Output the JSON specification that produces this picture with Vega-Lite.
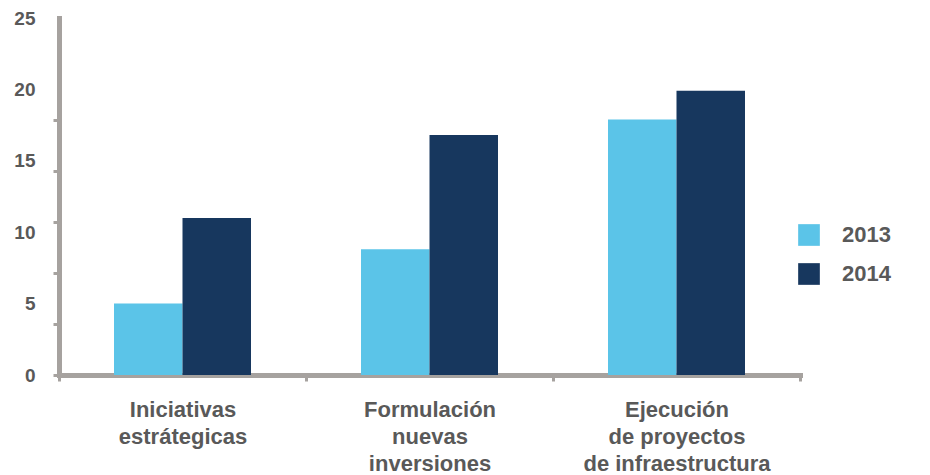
{
  "$schema": "https://vega.github.io/schema/vega-lite/v6.json",
  "autosize": "none",
  "width": 741,
  "height": 357,
  "padding": {"left": 59, "top": 18, "right": 130, "bottom": 100},
  "background": "white",
  "config": {
    "view": {"stroke": null},
    "font": "Liberation Sans",
    "axis": {
      "labelFont": "Liberation Sans",
      "labelFontWeight": "bold",
      "labelColor": "#595959",
      "domainColor": "#A6A29F",
      "domainWidth": 5,
      "tickColor": "#A6A29F",
      "tickWidth": 3,
      "grid": false,
      "title": null
    },
    "legend": {
      "labelFont": "Liberation Sans",
      "labelFontWeight": "bold",
      "labelColor": "#595959"
    }
  },
  "data": {
    "values": [
      {"categoria": "Iniciativas estrátegicas", "anio": "2013", "valor": 5.0},
      {"categoria": "Iniciativas estrátegicas", "anio": "2014", "valor": 11.0},
      {"categoria": "Formulación nuevas inversiones", "anio": "2013", "valor": 8.8},
      {"categoria": "Formulación nuevas inversiones", "anio": "2014", "valor": 16.8},
      {"categoria": "Ejecución de proyectos de infraestructura", "anio": "2013", "valor": 17.9},
      {"categoria": "Ejecución de proyectos de infraestructura", "anio": "2014", "valor": 19.9}
    ]
  },
  "mark": {"type": "bar"},
  "encoding": {
    "x": {
      "field": "categoria",
      "type": "nominal",
      "sort": null,
      "scale": {"paddingInner": 0, "paddingOuter": 0},
      "axis": {
        "labelAngle": 0,
        "labelFontSize": 22,
        "labelLineHeight": 27,
        "labelPadding": 18,
        "labelLimit": 0,
        "tickBand": "extent",
        "tickSize": 6,
        "domainCap": "square",
        "labelExpr": "datum.index < 0 || datum.value == null ? '' : datum.value == 'Iniciativas estrátegicas' ? ['Iniciativas', 'estrátegicas'] : datum.value == 'Formulación nuevas inversiones' ? ['Formulación', 'nuevas', 'inversiones'] : ['Ejecución', 'de proyectos', 'de infraestructura']"
      }
    },
    "xOffset": {
      "field": "anio",
      "type": "nominal",
      "scale": {"paddingInner": 0, "paddingOuter": 0.803}
    },
    "y": {
      "field": "valor",
      "type": "quantitative",
      "scale": {"domain": [0, 25], "nice": false},
      "axis": {
        "values": [0, 3.5714, 5, 7.1429, 10, 10.7143, 14.2857, 15, 17.8571, 20, 25],
        "labelExpr": "datum.value % 5 === 0 ? datum.label : ''",
        "labelOverlap": false,
        "labelFontSize": 19,
        "labelPadding": 18,
        "tickSize": 6,
        "tickOpacity": {"condition": {"test": "datum.value % 5 !== 0 || datum.value === 0", "value": 1}, "value": 0},
        "domainCap": "square"
      }
    },
    "color": {
      "field": "anio",
      "type": "nominal",
      "scale": {"domain": ["2013", "2014"], "range": ["#5BC4E8", "#17375E"]},
      "legend": {
        "title": null,
        "orient": "none",
        "legendX": 739,
        "legendY": 206,
        "symbolType": "square",
        "symbolSize": 470,
        "symbolStrokeWidth": 0,
        "symbolOpacity": 1,
        "labelFontSize": 22,
        "labelOffset": 22,
        "rowPadding": 17,
        "padding": 0
      }
    }
  }
}
